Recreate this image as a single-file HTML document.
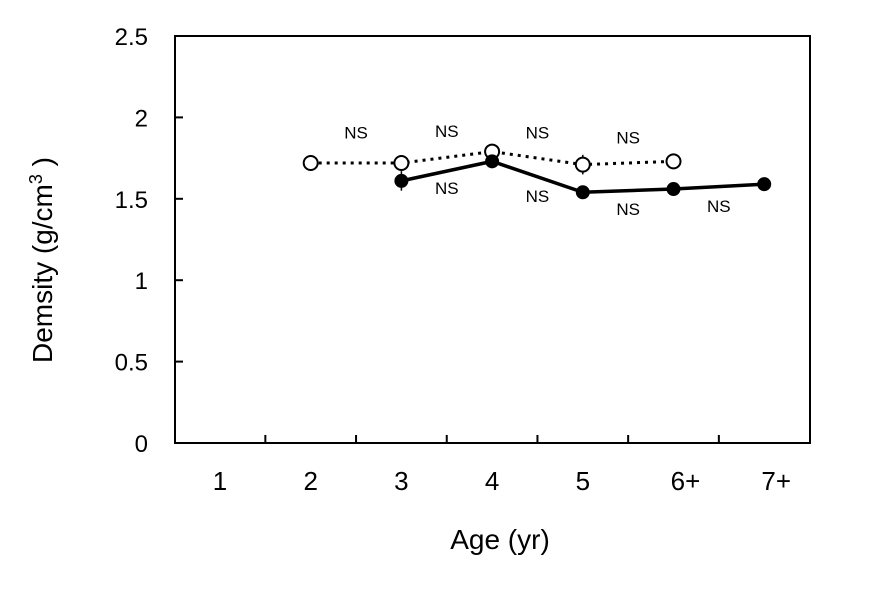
<!DOCTYPE html>
<html><head><meta charset="utf-8"><style>
body{margin:0;background:#fff;}
svg text{font-family:"Liberation Sans",sans-serif;}
</style></head><body>
<svg id="chart" width="871" height="591" viewBox="0 0 871 591" xmlns="http://www.w3.org/2000/svg">
<rect x="175" y="36" width="635" height="407" fill="none" stroke="#000" stroke-width="2"/>
<g id="axes"></g>
<g id="series"></g>
<text x="32" y="240" font-size="28" text-anchor="middle" transform="rotate(-90 52 240)">Demsity (g/cm<tspan font-size="18" dy="-10">3</tspan><tspan dy="10"> )</tspan></text>
<text x="500" y="549" font-size="28" text-anchor="middle">Age (yr)</text>
</svg>
<script>
const categories=["1","2","3","4","5","6+","7+"];
const yTicks=[0,0.5,1,1.5,2,2.5];
const yTickLabels=["0","0.5","1","1.5","2","2.5"];
const openValues=[null,1.72,1.72,1.79,1.71,1.73,null];
const filledValues=[null,null,1.61,1.73,1.54,1.56,1.59];
const openErr=[0,0,0,0,0.06,0,0];
const filledErr=[0,0,0.06,0,0,0,0];
const nsUpper=[[1.5,1.87],[2.5,1.88],[3.5,1.87],[4.5,1.84]];
const nsLower=[[2.5,1.53],[3.5,1.48],[4.5,1.40],[5.5,1.42]];

const NS="http://www.w3.org/2000/svg";
const X0=175,X1=810,Y0=443,Y1=36;
const xs=i=>220+i*90.7;
const ys=v=>Y0-(v/2.5)*(Y0-Y1);
function mk(t,a,p){const e=document.createElementNS(NS,t);for(const k in a)e.setAttribute(k,a[k]);p.appendChild(e);return e;}
const ax=document.getElementById('axes'),se=document.getElementById('series');
yTicks.forEach((v,i)=>{
 const l=mk('line',{x1:X0,x2:X0+8,y1:ys(v),y2:ys(v),stroke:'#000','stroke-width':2},ax);
 
 
 const t=mk('text',{x:148,y:ys(v)+9,'font-size':24,'text-anchor':'end'},ax);t.textContent=yTickLabels[i];
 
 
});
categories.forEach((c,i)=>{
 if(i>0){const l=mk('line',{x1:xs(i)-45.35,x2:xs(i)-45.35,y1:Y0,y2:Y0-8,stroke:'#000','stroke-width':2},ax);
 
 }
 const t=mk('text',{x:xs(i)+(c.length>1?12:0),y:490,'font-size':26,'text-anchor':'middle'},ax);t.textContent=c;
 
 
});
function series(vals,err,dash,fill,name){
 let pts=[];vals.forEach((v,i)=>{if(v!=null)pts.push([xs(i),ys(v),i]);});
 const pl=mk('polyline',{points:pts.map(p=>p[0]+','+p[1]).join(' '),fill:'none',stroke:'#000','stroke-width':dash?3:3.5,'stroke-dasharray':dash?'3 5':'none'},se);
 
 
 pts.forEach(p=>{
  const v=vals[p[2]],e=err[p[2]];
  if(e){const b=mk('line',{x1:p[0],x2:p[0],y1:ys(v+e),y2:ys(v-e),stroke:'#000','stroke-width':1.5},se);
   
   }
  const c=mk('circle',{cx:p[0],cy:p[1],r:fill?6:7,fill:fill?'#000':'#fff',stroke:'#000','stroke-width':2},se);
  
  
 });
}
series(openValues,openErr,true,false,'open-series');
series(filledValues,filledErr,false,true,'filled-series');
nsUpper.concat(nsLower).forEach(n=>{
 const t=mk('text',{x:xs(n[0]),y:ys(n[1]),'font-size':17,'text-anchor':'middle'},se);t.textContent='NS';
 
 
});
</script>
</body></html>
